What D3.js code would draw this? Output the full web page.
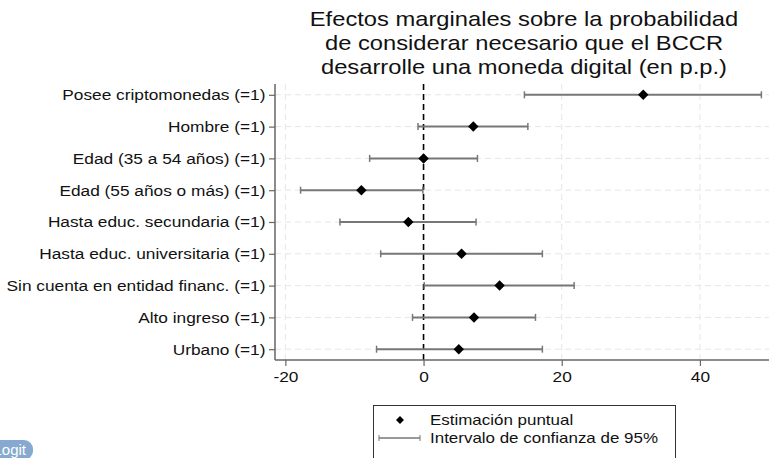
<!DOCTYPE html>
<html>
<head>
<meta charset="utf-8">
<script src="https://cdn.jsdelivr.net/npm/d3@7"></script>
<style>
  body { margin: 0; background: #fff; }
  svg { font-family: "Liberation Sans", Arial, sans-serif; display: block; }
</style>
</head>
<body>
<svg width="769" height="458"></svg>
<script>
// variables (rows top to bottom)
var labels = [
    "Posee criptomonedas (=1)",
    "Hombre (=1)",
    "Edad (35 a 54 años) (=1)",
    "Edad (55 años o más) (=1)",
    "Hasta educ. secundaria (=1)",
    "Hasta educ. universitaria (=1)",
    "Sin cuenta en entidad financ. (=1)",
    "Alto ingreso (=1)",
    "Urbano (=1)"
];
// point estimates (p.p.)
var estimates = [31.8, 7.2, 0.0, -9.0, -2.2, 5.5, 11.0, 7.3, 5.1];
// 95% CI bounds
var ciLow  = [14.6, -0.8, -7.8, -17.8, -12.1, -6.2, 0.1, -1.6, -6.8];
var ciHigh = [48.9, 15.1, 7.8, -0.1, 7.6, 17.2, 21.8, 16.2, 17.2];

var xTicks = [-20, 0, 20, 40];
var titleLines = [
    "Efectos marginales sobre la probabilidad",
    "de considerar necesario que el BCCR",
    "desarrolle una moneda digital (en p.p.)"
];
var legendLabels = ["Estimación puntual", "Intervalo de confianza de 95%"];

var svg = d3.select("svg"),
    width = +svg.attr("width"),
    height = +svg.attr("height");

// the original text looks a bit wide, stretch it horizontally
var stretch = "scale(1.13,1)";

var plot = {left: 275, right: 769, top: 84, bottom: 360};

var x = d3.scaleLinear()
    .domain([-21.5, 50])
    .range([plot.left, plot.right]);

var y = d3.scalePoint()
    .domain(labels)
    .range([plot.top, plot.bottom])
    .padding(0.34);

var rows = labels.map(function(d, i) {
    return {label: d, est: estimates[i], lo: ciLow[i], hi: ciHigh[i]};
});

// title
svg.append("g")
    .selectAll("g")
    .data(titleLines)
    .enter().append("g")
        .attr("transform", function(d, i) {
            return "translate(" + ((plot.left + plot.right) / 2 + 2) + "," + (26 + i * 24) + ") " + stretch;
        })
    .append("text")
        .attr("text-anchor", "middle")
        .style("font-size", "21px")
        .style("fill", "#111")
        .text(function(d) { return d; });

// grid
var grid = svg.append("g").attr("class", "grid");
grid.selectAll(".vgrid")
    .data(xTicks)
    .enter().append("line")
        .attr("x1", function(d) { return x(d); })
        .attr("x2", function(d) { return x(d); })
        .attr("y1", plot.top)
        .attr("y2", plot.bottom)
        .attr("stroke", "#e6e6e6")
        .attr("stroke-width", 1)
        .attr("stroke-dasharray", "6,4");
grid.selectAll(".hgrid")
    .data(labels)
    .enter().append("line")
        .attr("x1", plot.left)
        .attr("x2", plot.right)
        .attr("y1", function(d) { return y(d); })
        .attr("y2", function(d) { return y(d); })
        .attr("stroke", "#e6e6e6")
        .attr("stroke-width", 1)
        .attr("stroke-dasharray", "6,4");

// reference line at zero
svg.append("line")
    .attr("x1", x(0))
    .attr("x2", x(0))
    .attr("y1", plot.top)
    .attr("y2", plot.bottom)
    .attr("stroke", "#000")
    .attr("stroke-width", 1.6)
    .attr("stroke-dasharray", "6,4");

// axes
var xAxis = svg.append("g")
    .attr("transform", "translate(0," + plot.bottom + ")")
    .call(d3.axisBottom(x)
        .tickValues(xTicks)
        .tickFormat(function(d) { return String(d); })
        .tickSize(6)
        .tickPadding(5));
var yAxis = svg.append("g")
    .attr("transform", "translate(" + plot.left + ",0)")
    .call(d3.axisLeft(y).tickSize(6).tickPadding(2));

[xAxis, yAxis].forEach(function(ax) {
    ax.select(".domain").attr("stroke", "#666").attr("stroke-width", 1.5);
    ax.selectAll(".tick line").attr("stroke", "#666").attr("stroke-width", 1.2);
    ax.selectAll(".tick text")
        .style("font-family", "\"Liberation Sans\", Arial, sans-serif")
        .style("font-size", "15.3px")
        .attr("fill", "#111");
});
xAxis.selectAll(".tick text").attr("transform", stretch);
yAxis.selectAll(".tick text")
    .attr("x", -8.5)
    .attr("transform", stretch);
xAxis.select(".domain").attr("d", "M" + plot.left + ",0H" + plot.right);
yAxis.select(".domain").attr("d", "M0," + plot.top + "V" + plot.bottom);

// confidence intervals
var ci = svg.append("g").attr("class", "ci")
    .selectAll("g")
    .data(rows)
    .enter().append("g")
        .attr("transform", function(d) { return "translate(0," + y(d.label) + ")"; });

ci.append("line")
    .attr("x1", function(d) { return x(d.lo); })
    .attr("x2", function(d) { return x(d.hi); })
    .attr("stroke", "#777")
    .attr("stroke-width", 2);
ci.selectAll(".cap")
    .data(function(d) { return [d.lo, d.hi]; })
    .enter().append("line")
        .attr("x1", function(d) { return x(d); })
        .attr("x2", function(d) { return x(d); })
        .attr("y1", -3.5)
        .attr("y2", 3.5)
        .attr("stroke", "#777")
        .attr("stroke-width", 1.5);

// point estimates
var diamond = d3.symbol().type(d3.symbolDiamond2).size(70);
svg.append("g").attr("class", "pts")
    .selectAll("path")
    .data(rows)
    .enter().append("path")
        .attr("d", diamond)
        .attr("transform", function(d) { return "translate(" + x(d.est) + "," + y(d.label) + ")"; })
        .attr("fill", "#000");

// legend
var legend = svg.append("g").attr("class", "legend");
legend.append("rect")
    .attr("x", 373.5)
    .attr("y", 405.5)
    .attr("width", 302)
    .attr("height", 60)
    .attr("fill", "#fff")
    .attr("stroke", "#333")
    .attr("stroke-width", 1);
legend.append("path")
    .attr("d", d3.symbol().type(d3.symbolDiamond2).size(40))
    .attr("transform", "translate(400,420)")
    .attr("fill", "#000");
legend.append("line")
    .attr("x1", 379).attr("x2", 420)
    .attr("y1", 438).attr("y2", 438)
    .attr("stroke", "#777").attr("stroke-width", 1.5);
legend.selectAll(".lcap")
    .data([379, 420])
    .enter().append("line")
        .attr("x1", function(d) { return d; })
        .attr("x2", function(d) { return d; })
        .attr("y1", 435).attr("y2", 441)
        .attr("stroke", "#777").attr("stroke-width", 1);
legend.selectAll("g.item")
    .data(legendLabels)
    .enter().append("g")
        .attr("transform", function(d, i) { return "translate(430," + (425 + i * 18) + ") " + stretch; })
    .append("text")
        .style("font-size", "15px")
        .style("fill", "#111")
        .text(function(d) { return d; });

// "Logit" badge, clipped at the left edge as in the original
var badge = svg.append("g");
badge.append("rect")
    .attr("x", -25)
    .attr("y", 440)
    .attr("width", 58)
    .attr("height", 20)
    .attr("rx", 9)
    .attr("fill", "#86a9cf");
badge.append("text")
    .attr("x", 26)
    .attr("y", 455)
    .attr("text-anchor", "end")
    .style("font-size", "15px")
    .style("fill", "#fff")
    .text("Logit");
</script>
</body>
</html>
